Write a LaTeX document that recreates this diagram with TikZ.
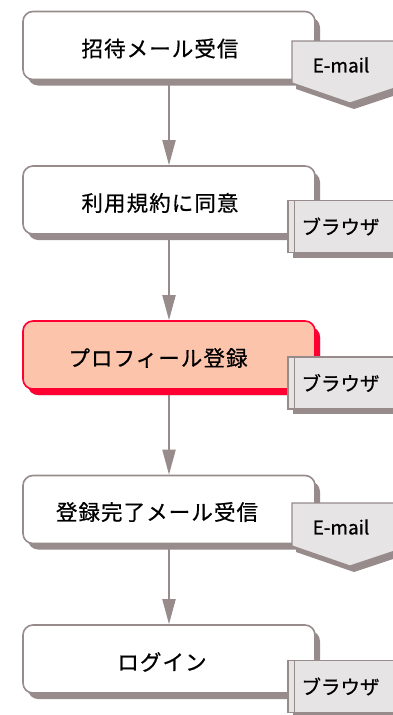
\documentclass[tikz,border=0pt]{standalone}
\usepackage{fontspec}
\setmainfont{Noto Sans CJK JP}[FakeBold=0.7]
\usetikzlibrary{arrows.meta,shadows,backgrounds}
\definecolor{lgray}{HTML}{978B8B}
\definecolor{pale}{HTML}{E6E4E4}
\definecolor{redb}{HTML}{FF0033}
\definecolor{peach}{HTML}{FDC4AC}
\begin{document}
\begin{tikzpicture}[x=1pt,y=-1pt,
  stepbox/.style={draw=lgray, line width=1.6pt, fill=white, rounded corners=10pt,
    minimum width=292pt, minimum height=68pt, inner sep=0pt,
    general shadow={fill=lgray, shadow xshift=5pt, shadow yshift=-6pt}},
  hotbox/.style={stepbox, draw=redb, fill=peach,
    general shadow={fill=redb, shadow xshift=5pt, shadow yshift=-6pt}},
  steptext/.style={font=\fontsize{21.5}{25}\selectfont\addfontfeatures{LetterSpace=5}, inner sep=0pt},
  browser/.style={draw=lgray, line width=1.2pt, fill=pale, minimum width=108pt, minimum height=52pt,
    inner sep=0pt, font=\fontsize{19.5}{23}\selectfont,
    general shadow={fill=lgray, shadow xshift=5pt, shadow yshift=-5pt},
    path picture={\draw[lgray, line width=1pt] ([xshift=6pt]path picture bounding box.north west) -- ([xshift=6pt]path picture bounding box.south west);}},
  mailshape/.style={draw=lgray, line width=1.2pt, fill=pale,
    general shadow={fill=lgray, shadow xshift=4pt, shadow yshift=-6pt}},
  mailtext/.style={font=\fontsize{19}{22}\selectfont, inner sep=0pt},
  flow/.style={draw=lgray, line width=2pt, -{Triangle[width=13pt,length=25pt]}}
]
\useasboundingbox (0,0) rectangle (392,715);

% main steps
\node[stepbox] (b1) at (169,45.5) {};
\node[stepbox] (b2) at (169,200) {};
\node[hotbox]  (b3) at (169,355) {};
\node[stepbox] (b4) at (169,509.5) {};
\node[stepbox] (b5) at (169,659) {};

\node[steptext] (t1) at (160,48.5) {招待メール受信};
\node[steptext] (t2) at (160,203) {利用規約に同意};
\node[steptext] (t3) at (158,358) {プロフィール登録};
\node[steptext] (t4) at (157,512) {登録完了メール受信};
\node[steptext] (t5) at (162,662) {ログイン};

% connectors
\begin{pgfonlayer}{background}
\draw[flow] (b1.south) -- (b2.north);
\draw[flow] (b2.south) -- (b3.north);
\draw[flow] (b3.south) -- (b4.north);
\draw[flow] (b4.south) -- (b5.north);
\end{pgfonlayer}

% e-mail tags
\draw[mailshape] (292,41) -- (410,41) -- (410,83) -- (350,103) -- (292,83) -- cycle;
\node[mailtext] (m1) at (341,65) {E-mail};
\draw[mailshape] (292,503) -- (410,503) -- (410,546) -- (350,566) -- (292,546) -- cycle;
\node[mailtext] (m4) at (341,527) {E-mail};

% browser tags
\node[browser] (w2) at (342,226.5) {\hspace*{-3pt}ブラウザ};
\node[browser] (w3) at (342,383) {\hspace*{-3pt}ブラウザ};
\node[browser] (w5) at (342,686.5) {\hspace*{-3pt}ブラウザ};
\end{tikzpicture}
\end{document}
